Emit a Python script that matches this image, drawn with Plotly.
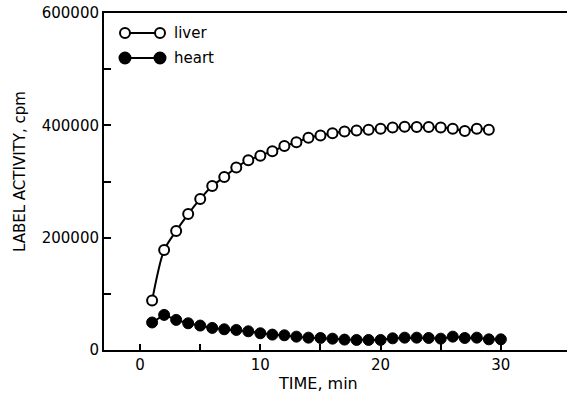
import plotly.graph_objects as go

# ---- data ----
time_liver = list(range(1, 30))
liver = [88000, 178000, 212000, 242000, 269000, 292000, 308000, 325000, 338000, 346000,
         354000, 363000, 370000, 378000, 382000, 386000, 389000, 391000, 392000, 394000,
         396000, 397500, 397000, 397000, 396000, 394000, 390000, 394000, 392000]
time_heart = list(range(1, 31))
heart = [49000, 62500, 53600, 47600, 43500, 39300, 36900, 35700, 33300, 29800,
         27400, 26200, 23800, 22000, 21400, 20200, 18500, 17900, 17900, 17900,
         20800, 22000, 22000, 21400, 20200, 23800, 21400, 22000, 19000, 19000]
y_tickvals = [0, 100000, 200000, 300000, 400000, 500000, 600000]
y_ticktext = ["0", "", "200000", "", "400000", "", "600000"]
x_tickvals = [0, 5, 10, 15, 20, 25, 30]
x_ticktext = ["0", "", "10", "", "20", "", "30"]
legend_names = ["liver", "heart"]
x_title = "TIME, min"
y_title = "LABEL ACTIVITY, cpm"

FONT = "DejaVu Sans"
W, H = 567, 395
ML, MR, MT, MB = 104, 0, 13, 45
PW, PH = W - ML - MR, H - MT - MB


def px2x(px):
    return (px - ML) / PW


def py2y(py):
    return (H - MB - py) / PH


fig = go.Figure()
fig.add_trace(go.Scatter(
    x=time_liver, y=liver, mode="lines+markers", name=legend_names[0],
    line=dict(color="black", width=2, shape="spline", smoothing=0.8),
    marker=dict(symbol="circle", size=10, color="white", line=dict(color="black", width=2)),
    showlegend=False))
fig.add_trace(go.Scatter(
    x=time_heart, y=heart, mode="lines+markers", name=legend_names[1],
    line=dict(color="black", width=2),
    marker=dict(symbol="circle", size=11, color="black", line=dict(color="black", width=1)),
    showlegend=False))

# custom legend (paper coordinates)
shapes = []
annotations = []
for i, (name, py) in enumerate(zip(legend_names, [33, 58])):
    filled = i == 1
    shapes.append(dict(type="line", xref="paper", yref="paper",
                       x0=px2x(125), x1=px2x(160), y0=py2y(py), y1=py2y(py),
                       line=dict(color="black", width=2)))
    for cx in (125, 160):
        r = 5.5 if filled else 5
        shapes.append(dict(type="circle", xref="paper", yref="paper",
                           xsizemode="pixel", ysizemode="pixel",
                           xanchor=px2x(cx), yanchor=py2y(py),
                           x0=-r, x1=r, y0=-r, y1=r,
                           fillcolor="black" if filled else "white",
                           line=dict(color="black", width=2)))
    annotations.append(dict(text=name, xref="paper", yref="paper",
                            x=px2x(172), y=py2y(py), xanchor="left", yanchor="middle",
                            showarrow=False, font=dict(family=FONT, size=15, color="black")))

# axis titles
annotations.append(dict(text=x_title, xref="paper", yref="paper",
                        x=px2x(318), y=py2y(383), xanchor="center", yanchor="middle",
                        showarrow=False, font=dict(family=FONT, size=16, color="black")))
annotations.append(dict(text=y_title, xref="paper", yref="paper", textangle=-90,
                        x=px2x(20), y=py2y(172), xanchor="center", yanchor="middle",
                        showarrow=False, font=dict(family=FONT, size=15, color="black")))

fig.update_layout(
    width=W, height=H,
    margin=dict(l=ML, r=MR, t=MT, b=MB, pad=0),
    paper_bgcolor="white", plot_bgcolor="white",
    font=dict(family=FONT, size=15, color="black"),
    shapes=shapes, annotations=annotations,
    xaxis=dict(range=[-3, 35.5], tickvals=x_tickvals, ticktext=x_ticktext,
               ticks="inside", ticklen=6, tickwidth=1.5, tickcolor="black",
               showline=True, linecolor="black", linewidth=2, mirror=True,
               showgrid=False, zeroline=False,
               tickfont=dict(family=FONT, size=15)),
    yaxis=dict(range=[0, 600000], tickvals=y_tickvals, ticktext=y_ticktext,
               ticks="inside", ticklen=7, tickwidth=1.5, tickcolor="black",
               showline=True, linecolor="black", linewidth=2,
               showgrid=False, zeroline=False,
               tickfont=dict(family=FONT, size=15)),
)

fig.write_html("out.html")
